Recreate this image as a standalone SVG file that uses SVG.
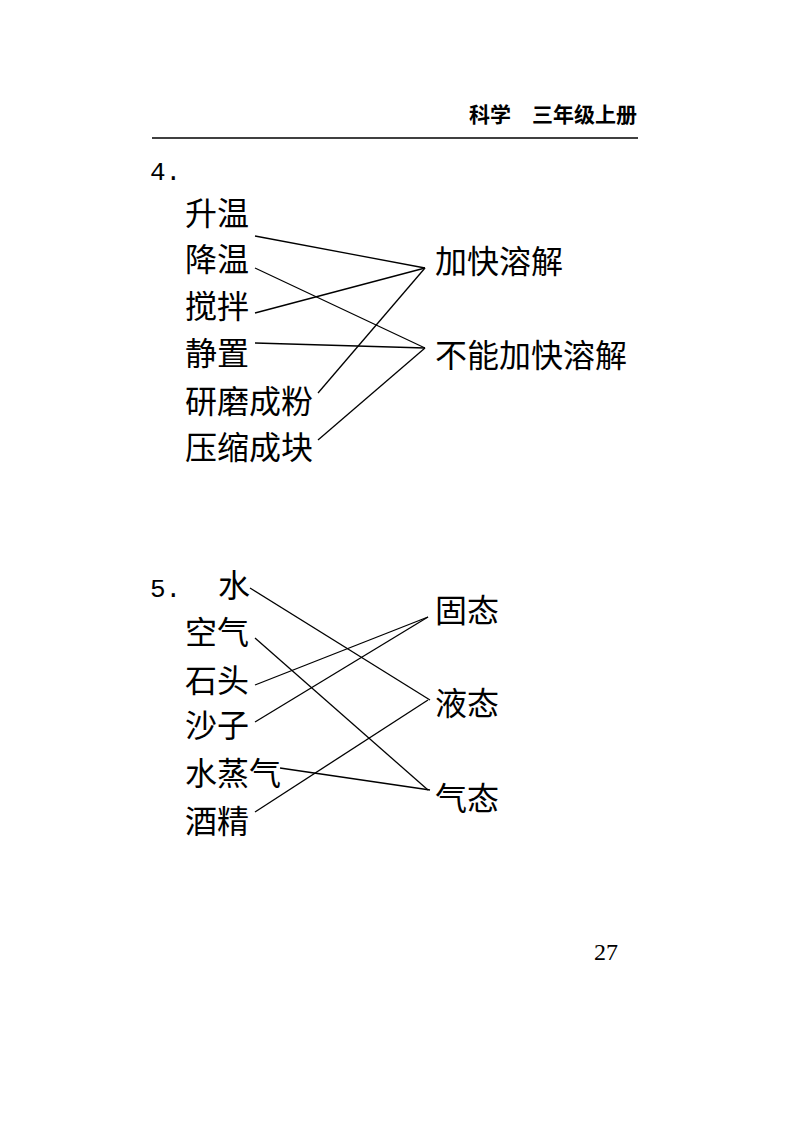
<svg xmlns="http://www.w3.org/2000/svg" width="800" height="1140" viewBox="0 0 800 1140">
<style>
.t{font-family:"Noto Sans CJK SC","Liberation Serif",serif;font-size:32px;fill:#000}
.n{font-family:"Liberation Mono","DejaVu Sans Mono",monospace;font-size:26px;fill:#000}
.h{font-family:"Noto Sans CJK SC",sans-serif;font-size:21px;font-weight:bold;fill:#000}
#connectors line{stroke:#000;stroke-width:1.3}
</style>
<rect width="800" height="1140" fill="#fff"/>
<g id="header">
<text class="h" x="637" y="122" text-anchor="end">科学　三年级上册</text>
<line x1="152" y1="138" x2="638" y2="138" stroke="#000" stroke-width="1.3"/>
</g>
<text class="n" x="150" y="180">4.</text>
<g id="q4-left">
<text id="n-shengwen" class="t" x="185" y="225">升温</text>
<text id="n-jiangwen" class="t" x="185" y="271">降温</text>
<text id="n-jiaoban" class="t" x="185" y="318">搅拌</text>
<text id="n-jingzhi" class="t" x="185" y="365">静置</text>
<text id="n-yanmo" class="t" x="185" y="413">研磨成粉</text>
<text id="n-yasuo" class="t" x="185" y="459">压缩成块</text>
</g>
<g id="q4-right">
<text id="n-jiakuai" class="t" x="435" y="273">加快溶解</text>
<text id="n-bunengjiakuai" class="t" x="435" y="367">不能加快溶解</text>
</g>
<text class="n" x="150" y="597">5.</text>
<g id="q5-left">
<text id="n-shui" class="t" x="218" y="597">水</text>
<text id="n-kongqi" class="t" x="185" y="644">空气</text>
<text id="n-shitou" class="t" x="185" y="692">石头</text>
<text id="n-shazi" class="t" x="185" y="737">沙子</text>
<text id="n-shuizhengqi" class="t" x="185" y="785">水蒸气</text>
<text id="n-jiujing" class="t" x="185" y="833">酒精</text>
</g>
<g id="q5-right">
<text id="n-gutai" class="t" x="435" y="622">固态</text>
<text id="n-yetai" class="t" x="435" y="715">液态</text>
<text id="n-qitai" class="t" x="435" y="810">气态</text>
</g>
<g id="connectors">
<line x1="255" y1="236" x2="425" y2="268"/>
<line x1="255" y1="268" x2="425" y2="348"/>
<line x1="255" y1="313" x2="425" y2="268"/>
<line x1="255" y1="343" x2="425" y2="348"/>
<line x1="318" y1="393" x2="425" y2="268"/>
<line x1="318" y1="440" x2="425" y2="348"/>
<line x1="250" y1="588" x2="430" y2="700"/>
<line x1="255" y1="638" x2="428" y2="790"/>
<line x1="255" y1="685" x2="428" y2="617"/>
<line x1="255" y1="722" x2="428" y2="617"/>
<line x1="280" y1="768" x2="430" y2="790"/>
<line x1="255" y1="812" x2="428" y2="700"/>
</g>
<text class="n" x="594" y="960" style="font-family:'Liberation Serif',serif;font-size:24px">27</text>
</svg>
